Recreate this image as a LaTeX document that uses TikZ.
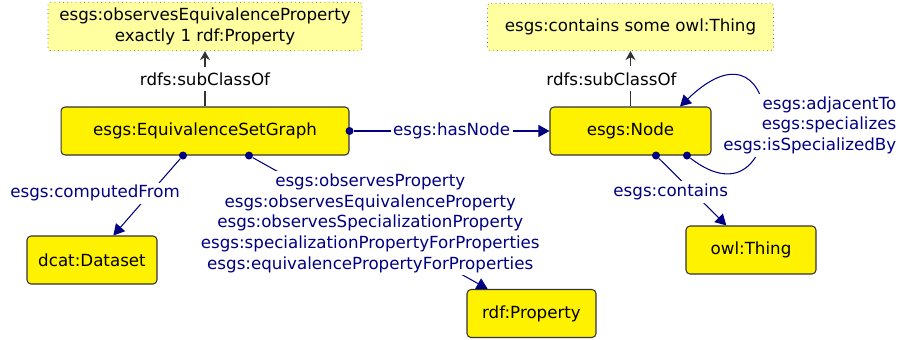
\documentclass[tikz,border=0pt]{standalone}
\usepackage{fontspec}
\setmainfont{DejaVu Sans}
\usetikzlibrary{arrows.meta}
\definecolor{esgblue}{RGB}{0,0,128}
\definecolor{restrfill}{RGB}{255,255,160}

\tikzset{
  cls/.style={draw=black!80, fill=yellow, rounded corners=0.08cm, minimum height=0.96cm, line width=0.6pt},
  restr/.style={draw=black!70, dotted, fill=restrfill, rounded corners=0.06cm, minimum height=0.95cm, align=center},
  dot/.style={circle, fill=esgblue, inner sep=0pt, minimum size=0.16cm},
  rel/.style={draw=esgblue, line width=0.6pt, -{Triangle[length=0.22cm,width=0.24cm]}},
  plbl/.style={fill=white, text=esgblue, align=center, inner sep=1.5pt},
  subcl/.style={draw=black!80, line width=0.6pt, -{Stealth[length=0.18cm,width=0.2cm]}},
}

\begin{document}
\begin{tikzpicture}[x=0.02cm, y=-0.02cm, font=\fontsize{9.5}{11.8}\selectfont]
%\draw [help lines] (0,0) grid [step=50] (900,339);
\useasboundingbox (0,0) rectangle (900,339);

 \node [restr, minimum width=6.28cm] (esgr) at (205,26.5) {esgs:observesEquivalenceProperty\\exactly 1 rdf:Property};
 \node [cls, minimum width=5.76cm] (esg) at (205,131) {esgs:EquivalenceSetGraph};
 \node [restr, minimum width=5.72cm] (noder) at (630.5,27) {esgs:contains some owl:Thing};
 \node [cls, minimum width=3.22cm] (esgnode) at (630.5,131) {esgs:Node};
 \node [cls, minimum width=2.6cm] (dataset) at (92,260) {dcat:Dataset};
 \node [cls, minimum width=2.58cm] (property) at (531.5,313.5) {rdf:Property};
 \node [cls, minimum width=2.6cm] (thing) at (751,250) {owl:Thing};

 \node [dot] (d1) at (esg.east) {};
 \node [dot] (d2) at ([xshift=-0.44cm]esg.south) {};
 \node [dot] (d3) at ([xshift=0.88cm]esg.south) {};
 \node [dot] (d4) at ([xshift=0.51cm]esgnode.south) {};
 \node [dot] (d5) at ([xshift=1.13cm]esgnode.south) {};

\draw [subcl] (esg) -- node [fill=white] {rdfs:subClassOf} (esgr);
\draw [subcl] (esgnode) -- node [fill=white, xshift=-0.38cm] {rdfs:subClassOf} (noder);

\draw [rel] (d1) -- node [plbl] {esgs:hasNode} (esgnode);
\draw [rel] (d2) -- node [plbl, pos=.45, xshift=-1.1cm] {esgs:computedFrom} (dataset);
\draw [rel] (d3) -- node [plbl] {esgs:observesProperty\\esgs:observesEquivalenceProperty\\esgs:observesSpecializationProperty\\esgs:specializationPropertyForProperties\\esgs:equivalencePropertyForProperties} (property);
\draw [rel] (d4) -- node [plbl, xshift=-0.44cm] {esgs:contains} (thing);
\draw [rel] (d5) .. controls (790,235) and (790,0) .. ([xshift=0.99cm]esgnode.north)
   node [plbl, pos=.5, align=right, xshift=0.92cm, yshift=-0.08cm] {esgs:adjacentTo\\esgs:specializes\\esgs:isSpecializedBy};
\end{tikzpicture}
\end{document}
